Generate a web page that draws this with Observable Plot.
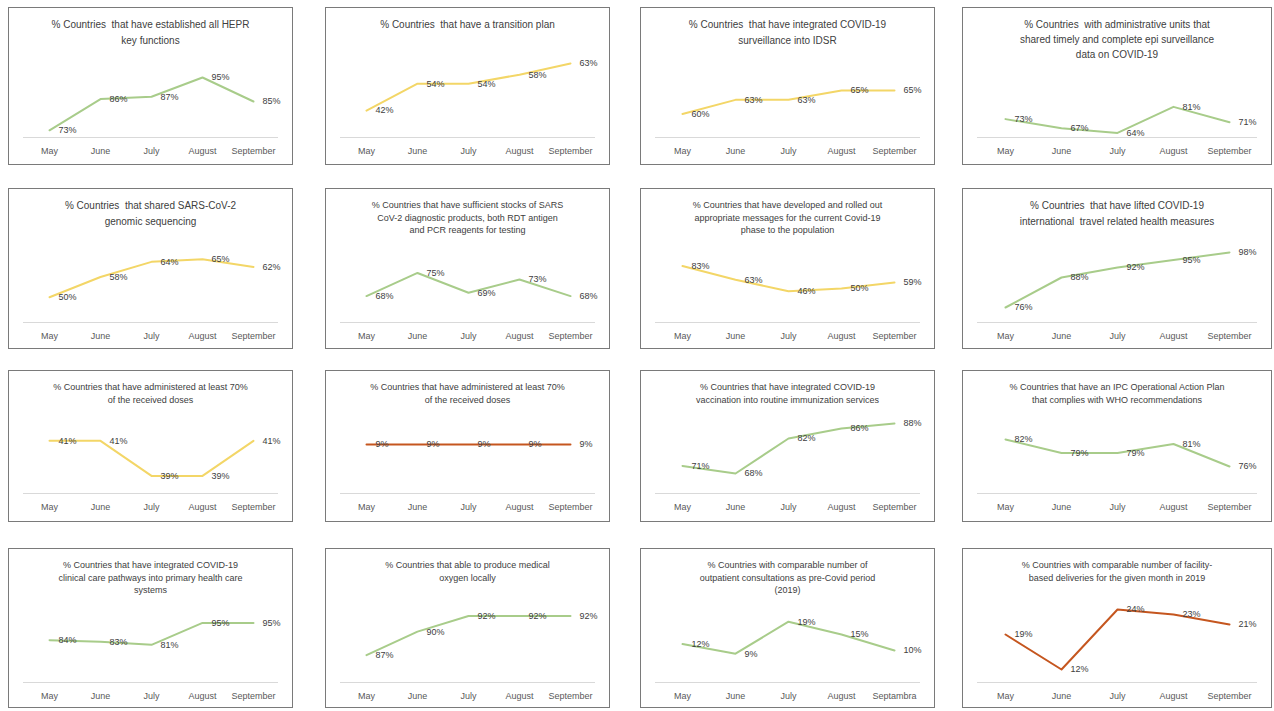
<!DOCTYPE html>
<html>
<head>
<meta charset="utf-8">
<script src="https://cdn.jsdelivr.net/npm/d3@7"></script>
<script src="https://cdn.jsdelivr.net/npm/@observablehq/plot@0.6"></script>
<style>
  html, body { margin: 0; padding: 0; background: #ffffff; }
  #grid { position: relative; width: 1274px; height: 711px; overflow: hidden; font-family: "Liberation Sans", Arial, sans-serif; }
  .panel { position: absolute; box-sizing: border-box; outline: 1.5px solid #7a7a7a; outline-offset: -1.5px; background: #fff; }
  .panel svg { position: absolute; left: 0; top: 0; overflow: visible; }
  .ttl { position: absolute; left: 6px; right: 6px; text-align: center; color: #404040; white-space: pre; z-index: 2; }
</style>
</head>
<body>
<div id="grid"></div>
<script>
// ---- data ----
const months = ["May", "June", "July", "August", "September"];
const monthsP15 = ["May", "June", "July", "August", "Septambra"];

const heprFunctions   = [73, 86, 87, 95, 85];
const transitionPlan  = [42, 54, 54, 58, 63];
const covidIdsr       = [60, 63, 63, 65, 65];
const adminUnitsEpi   = [73, 67, 64, 81, 71];
const genomicSeq      = [50, 58, 64, 65, 62];
const diagStocks      = [68, 75, 69, 73, 68];
const riskMessages    = [83, 63, 46, 50, 59];
const travelLifted    = [76, 88, 92, 95, 98];
const dosesAdminA     = [41, 41, 39, 39, 41];
const dosesAdminB     = [9, 9, 9, 9, 9];
const vaccRoutine     = [71, 68, 82, 86, 88];
const ipcPlan         = [82, 79, 79, 81, 76];
const clinicalCare    = [84, 83, 81, 95, 95];
const oxygenLocal     = [87, 90, 92, 92, 92];
const outpatientConsult = [12, 9, 19, 15, 10];
const facilityDeliveries = [19, 12, 24, 23, 21];

const titles = [
  "% Countries  that have established all HEPR\nkey functions",
  "% Countries  that have a transition plan",
  "% Countries  that have integrated COVID-19\nsurveillance into IDSR",
  "% Countries  with administrative units that\nshared timely and complete epi surveillance\ndata on COVID-19",
  "% Countries  that shared SARS-CoV-2\ngenomic sequencing",
  "% Countries that have sufficient stocks of SARS\nCoV-2 diagnostic products, both RDT antigen\nand PCR reagents for testing",
  "% Countries that have developed and rolled out\nappropriate messages for the current Covid-19\nphase to the population",
  "% Countries  that have lifted COVID-19\ninternational  travel related health measures",
  "% Countries that have administered at least 70%\nof the received doses",
  "% Countries that have administered at least 70%\nof the received doses",
  "% Countries that have integrated COVID-19\nvaccination into routine immunization services",
  "% Countries that have an IPC Operational Action Plan\nthat complies with WHO recommendations",
  "% Countries that have integrated COVID-19\nclinical care pathways into primary health care\nsystems",
  "% Countries that able to produce medical\noxygen locally",
  "% Countries with comparable number of\noutpatient consultations as pre-Covid period\n(2019)",
  "% Countries with comparable number of facility-\nbased deliveries for the given month in 2019"
];

const series = [
  heprFunctions, transitionPlan, covidIdsr, adminUnitsEpi,
  genomicSeq, diagStocks, riskMessages, travelLifted,
  dosesAdminA, dosesAdminB, vaccRoutine, ipcPlan,
  clinicalCare, oxygenLocal, outpatientConsult, facilityDeliveries
];

// ---- scale / style config ----
const GREEN = "#a8cc8a", YELLOW = "#f3d667", ORANGE = "#c5561f";
const lineColors = [
  GREEN, YELLOW, YELLOW, GREEN,
  YELLOW, GREEN, YELLOW, GREEN,
  YELLOW, ORANGE, GREEN, GREEN,
  GREEN, GREEN, GREEN, ORANGE
];
const yDomains = [
  [70, 100], [30, 62.1], [55, 70.3], [61, 108],
  [40, 68.5], [60, 81.8], [0, 105.9], [70, 98.8],
  [38, 42.1], [0, 13.2], [60, 88.8], [70, 86],
  [57, 102.9], [83.5, 92.7], [0, 22.5], [9.4, 23.8]
];
const bigTitle = [true, true, true, true, true, false, false, true,
                  false, false, false, false, false, false, false, false];

const colX = [8, 325, 640, 962];
const colW = [285, 285, 295, 310];
const rowY = [7, 188, 370, 548];
const rowH = [158, 161, 152, 160];
const rowMT = [58, 62, 51, 62];
const rowMB = [28, 27, 29, 26];

const grid = document.getElementById("grid");

series.forEach((vals, i) => {
  const r = Math.floor(i / 4), c = i % 4;
  const w = colW[c], h = rowH[r];
  const mlist = i === 14 ? monthsP15 : months;
  const data = vals.map((v, k) => ({month: mlist[k], value: v}));

  const panel = document.createElement("div");
  panel.className = "panel";
  panel.style.left = colX[c] + "px";
  panel.style.top = rowY[r] + "px";
  panel.style.width = w + "px";
  panel.style.height = h + "px";

  const t = document.createElement("div");
  t.className = "ttl";
  t.textContent = titles[i];
  const big = bigTitle[i];
  t.style.fontSize = big ? "10px" : "9px";
  t.style.lineHeight = big ? (i === 3 ? "15px" : "16px") : "12.5px";
  t.style.top = big ? "10px" : "11px";
  panel.appendChild(t);

  const chart = Plot.plot({
    width: w,
    height: h,
    marginLeft: 15,
    marginRight: 15,
    marginTop: rowMT[r],
    marginBottom: rowMB[r],
    style: {fontFamily: "'Liberation Sans', Arial, sans-serif", fontSize: "9px", color: "#595959", background: "transparent", overflow: "visible"},
    x: {type: "point", domain: mlist, padding: 0.5, label: null, tickSize: 0, tickPadding: 10},
    y: {domain: yDomains[i], axis: null},
    marks: [
      Plot.ruleY([yDomains[i][0]], {stroke: "#d9d9d9", strokeWidth: 1}),
      Plot.lineY(data, {x: "month", y: "value", stroke: lineColors[i], strokeWidth: 2, strokeLinejoin: "round"}),
      Plot.text(data, {x: "month", y: "value", text: d => d.value + "%", dx: 9, textAnchor: "start", fill: "#404040", fontSize: 9})
    ]
  });
  panel.appendChild(chart);
  grid.appendChild(panel);
});
</script>
</body>
</html>
